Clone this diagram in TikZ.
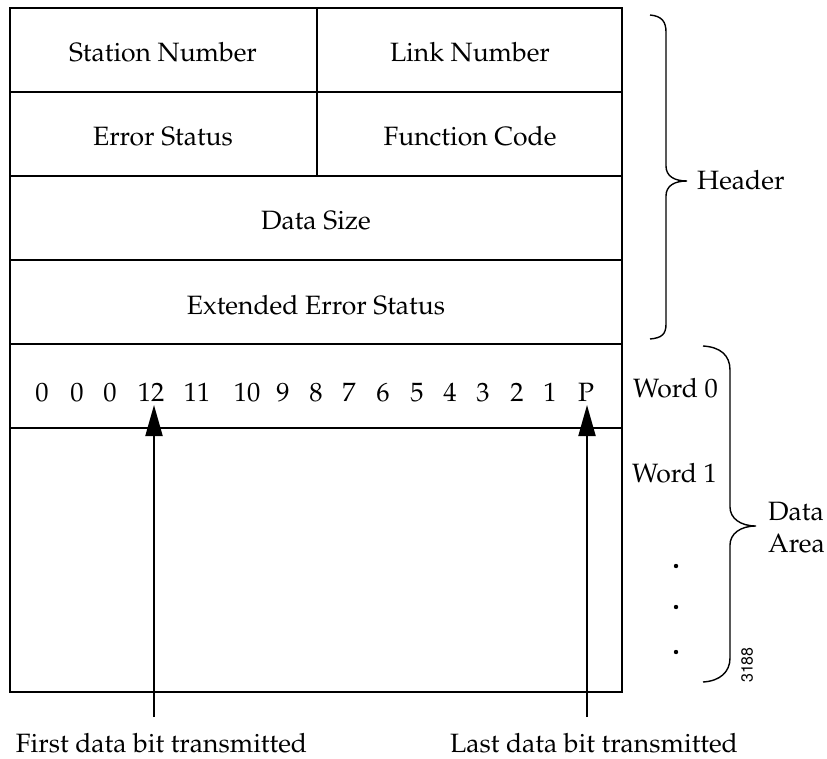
\documentclass[tikz,border=0pt]{standalone}
\usepackage[T1]{fontenc}
\usepackage{mathpazo}
\usetikzlibrary{arrows.meta}
\begin{document}
\begin{tikzpicture}[x=1pt,y=-1pt,
  lbl/.style={inner sep=0pt,anchor=base,font=\fontsize{26.5}{30}\selectfont},
  lbll/.style={lbl,anchor=base west},
  gridline/.style={line width=1.2pt},
  bracepath/.style={line width=1.4pt},
  arr/.style={line width=2pt,-{Triangle[length=31pt,width=17pt]}},
  dotmark/.style={fill=black}]
\useasboundingbox (0,0) rectangle (827,759);
% table
\draw[gridline] (10,8) rectangle (622,692);
\draw[gridline] (10,92) -- (622,92);
\draw[gridline] (10,176) -- (622,176);
\draw[gridline] (10,260) -- (622,260);
\draw[gridline] (10,344) -- (622,344);
\draw[gridline] (10,428) -- (622,428);
\draw[gridline] (317,8) -- (317,176);
% header texts
\node[lbl] (station) at (163,62) {Station Number};
\node[lbl] (link) at (470,62) {Link Number};
\node[lbl] (errst) at (163,146) {Error Status};
\node[lbl] (func) at (470,146) {Function Code};
\node[lbl] (dsize) at (316,230) {Data Size};
\node[lbl] (exterr) at (316,314) {Extended Error Status};
% bits
\node[lbl] (b0a) at (42,401) {0};
\node[lbl] (b0b) at (77,401) {0};
\node[lbl] (b0c) at (110,401) {0};
\node[lbl] (b12) at (151,401) {12};
\node[lbl] (b11) at (197,401) {11};
\node[lbl] (b10) at (247,401) {10};
\node[lbl] (b9) at (283,401) {9};
\node[lbl] (b8) at (316,401) {8};
\node[lbl] (b7) at (349,401) {7};
\node[lbl] (b6) at (383,401) {6};
\node[lbl] (b5) at (417,401) {5};
\node[lbl] (b4) at (450,401) {4};
\node[lbl] (b3) at (483,401) {3};
\node[lbl] (b2) at (517,401) {2};
\node[lbl] (b1) at (550,401) {1};
\node[lbl] (bP) at (586,401) {P};
% right side labels
\node[lbll] (header) at (697,190) {Header};
\node[lbll] (word0) at (633,397) {Word 0};
\node[lbll] (word1) at (632,482) {Word 1};
\node[lbll] (data) at (768,520) {Data};
\node[lbll] (area) at (768,552) {Area};
% braces
\draw[bracepath] (650,15) .. controls (662,16) and (666,22) .. (666,32) -- (666,166)
  .. controls (666,176) and (674,181) .. (687,181)
  .. controls (674,181) and (666,186) .. (666,196) -- (666,324)
  .. controls (666,334) and (662,338) .. (650,339);
\draw[bracepath] (703,346) .. controls (720,347) and (730,355) .. (730,370) -- (730,507)
  .. controls (730,518) and (740,526) .. (756,526)
  .. controls (740,526) and (730,534) .. (730,545) -- (730,658)
  .. controls (730,672) and (720,681) .. (703,682);
% dots
\fill[dotmark] (676,566) circle (2.2);
\fill[dotmark] (676,607) circle (2.2);
\fill[dotmark] (676,652) circle (2.2);
% figure number
\node[inner sep=0pt,rotate=90,font=\fontsize{16}{18}\fontfamily{phv}\selectfont] (fignum) at (747,665) {3188};
% arrows
\coordinate (a1s) at (154,717);
\coordinate (a1e) at (154,405);
\coordinate (a2s) at (587,717);
\coordinate (a2e) at (587,405);
\draw[arr] (a1s) -- (a1e);
\draw[arr] (a2s) -- (a2e);
% bottom labels
\node[lbl] (first) at (161.5,752) {First data bit transmitted};
\node[lbl] (last) at (594,752) {Last data bit transmitted};
\end{tikzpicture}
\end{document}
